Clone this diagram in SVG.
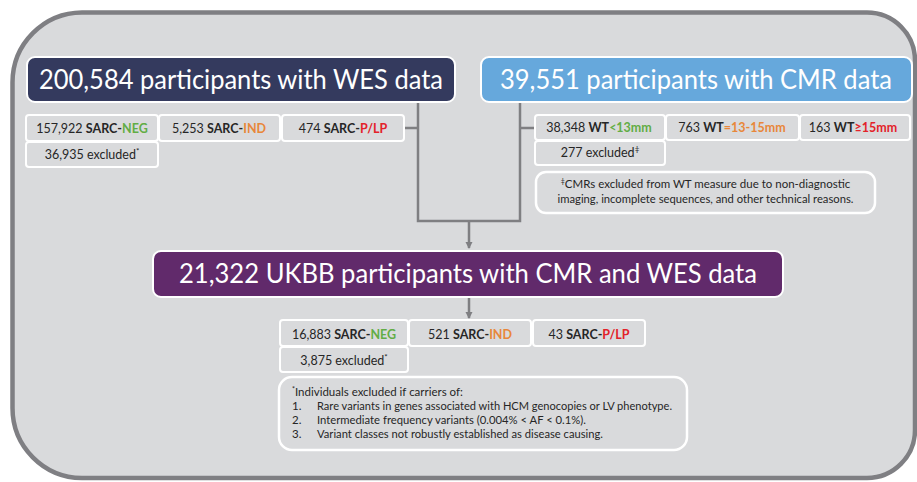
<svg xmlns="http://www.w3.org/2000/svg" width="917" height="482" viewBox="0 0 917 482">
<defs>
<style>
.frame{fill:#d9dadc;stroke:#7f7f83;stroke-width:4.5}
.hdr{stroke:#ffffff;stroke-width:2}
.cell{fill:#d9dadc;stroke:#ffffff;stroke-width:2}
.note{fill:#d9dadc;stroke:#ffffff;stroke-width:2.5}
.title{font-family:Lato,"Open Sans",sans-serif;font-size:26px;fill:#ffffff;text-anchor:middle}
.t{font-family:Lato,"Open Sans",sans-serif;font-size:12.5px;fill:#262626;text-anchor:middle}
.n{font-family:Lato,"Open Sans",sans-serif;font-size:11.5px;fill:#262626}
.b{font-weight:bold}
.g{fill:#62ad45}
.o{fill:#e8873a}
.r{fill:#e3222a}
.conn{fill:none;stroke:#7f7f82;stroke-width:2.5}
</style>
<marker id="ah" markerWidth="8" markerHeight="8" refX="6" refY="4" orient="auto" markerUnits="userSpaceOnUse">
<path d="M0,0.5 L7,4 L0,7.5 Z" fill="#7f7f82"/>
</marker>
</defs>
<path class="frame" d="M82,12.5 H867 A48,48 0 0 1 915,60.5 V430 A48,48 0 0 1 867,478 H82 A70,70 0 0 1 12.5,408 V82.5 A70,70 0 0 1 82,12.5 Z"/>

<g id="connectors">
<path class="conn" d="M404,128 H418 M418,102 V221 H520 V102 M520,128 H535"/>
<path class="conn" d="M469,221 V248" marker-end="url(#ah)"/>
<path class="conn" d="M469,297 V318" marker-end="url(#ah)"/>
</g>

<g id="wes">
<rect class="hdr" x="27" y="57" width="428" height="45" rx="8" fill="#343a5e"/>
<text class="title" x="241" y="89" textLength="404" lengthAdjust="spacingAndGlyphs">200,584 participants with WES data</text>
</g>

<g id="cmr">
<rect class="hdr" x="481" y="57" width="431" height="45" rx="8" fill="#66a8dc"/>
<text class="title" x="696" y="89" textLength="392" lengthAdjust="spacingAndGlyphs">39,551 participants with CMR data</text>
</g>

<g id="wes-neg">
<rect class="cell" x="26" y="115" width="132" height="26" rx="3"/>
<text class="t" x="92" y="133">157,922 <tspan class="b">SARC-</tspan><tspan class="b g">NEG</tspan></text>
</g>
<g id="wes-ind">
<rect class="cell" x="159" y="115" width="121" height="26" rx="3"/>
<text class="t" x="219" y="133">5,253 <tspan class="b">SARC-</tspan><tspan class="b o">IND</tspan></text>
</g>
<g id="wes-plp">
<rect class="cell" x="282" y="115" width="122" height="26" rx="3"/>
<text class="t" x="343" y="133">474 <tspan class="b">SARC-</tspan><tspan class="b r">P/LP</tspan></text>
</g>
<g id="wes-excl">
<rect class="cell" x="26" y="142" width="132" height="25" rx="3"/>
<text class="t" x="92" y="159">36,935 excluded<tspan font-size="8" dy="-5">*</tspan></text>
</g>

<g id="cmr-lt13">
<rect class="cell" x="535" y="115" width="130" height="25" rx="3"/>
<text class="t" x="599" y="132">38,348 <tspan class="b">WT</tspan><tspan class="b g">&lt;13mm</tspan></text>
</g>
<g id="cmr-13-15">
<rect class="cell" x="666" y="115" width="133" height="25" rx="3"/>
<text class="t" x="732" y="132">763 <tspan class="b">WT</tspan><tspan class="b o">=13-15mm</tspan></text>
</g>
<g id="cmr-ge15">
<rect class="cell" x="800" y="115" width="110" height="25" rx="3"/>
<text class="t" x="853" y="132">163 <tspan class="b">WT</tspan><tspan class="b r">≥15mm</tspan></text>
</g>
<g id="cmr-excl">
<rect class="cell" x="535" y="141" width="130" height="24" rx="3"/>
<text class="t" x="600" y="157">277 excluded<tspan font-size="8" dy="-5">‡</tspan></text>
</g>
<g id="cmr-note">
<rect class="note" x="536" y="172" width="339" height="41" rx="10"/>
<text class="n" x="705.5" y="188" text-anchor="middle"><tspan font-size="7" dy="-4">‡</tspan><tspan dy="4">CMRs excluded from WT measure due to non-diagnostic</tspan></text>
<text class="n" x="705.5" y="203" text-anchor="middle" textLength="296" lengthAdjust="spacingAndGlyphs">imaging, incomplete sequences, and other technical reasons.</text>
</g>

<g id="combined">
<rect class="hdr" x="153" y="251" width="630" height="46" rx="8" fill="#612a6b"/>
<text class="title" x="468" y="283" textLength="578" lengthAdjust="spacingAndGlyphs">21,322 UKBB participants with CMR and WES data</text>
</g>

<g id="ukbb-neg">
<rect class="cell" x="280" y="320" width="128" height="26" rx="3"/>
<text class="t" x="344" y="339">16,883 <tspan class="b">SARC-</tspan><tspan class="b g">NEG</tspan></text>
</g>
<g id="ukbb-ind">
<rect class="cell" x="409" y="320" width="122" height="26" rx="3"/>
<text class="t" x="470" y="339">521 <tspan class="b">SARC-</tspan><tspan class="b o">IND</tspan></text>
</g>
<g id="ukbb-plp">
<rect class="cell" x="533" y="320" width="112" height="26" rx="3"/>
<text class="t" x="589" y="339">43 <tspan class="b">SARC-</tspan><tspan class="b r">P/LP</tspan></text>
</g>
<g id="ukbb-excl">
<rect class="cell" x="280" y="347" width="128" height="25" rx="3"/>
<text class="t" x="344" y="365">3,875 excluded<tspan font-size="8" dy="-5">*</tspan></text>
</g>

<g id="excl-note">
<rect class="note" x="279" y="377" width="408" height="73" rx="13"/>
<text class="n" x="292" y="396"><tspan font-size="7" dy="-4">*</tspan><tspan dy="4">Individuals excluded if carriers of:</tspan></text>
<text class="n" x="292" y="410">1.</text>
<text class="n" x="317" y="410" textLength="355" lengthAdjust="spacingAndGlyphs">Rare variants in genes associated with HCM genocopies or LV phenotype.</text>
<text class="n" x="292" y="424">2.</text>
<text class="n" x="317" y="424" textLength="269" lengthAdjust="spacingAndGlyphs">Intermediate frequency variants (0.004% &lt; AF &lt; 0.1%).</text>
<text class="n" x="292" y="438">3.</text>
<text class="n" x="317" y="438" textLength="286" lengthAdjust="spacingAndGlyphs">Variant classes not robustly established as disease causing.</text>
</g>
</svg>
